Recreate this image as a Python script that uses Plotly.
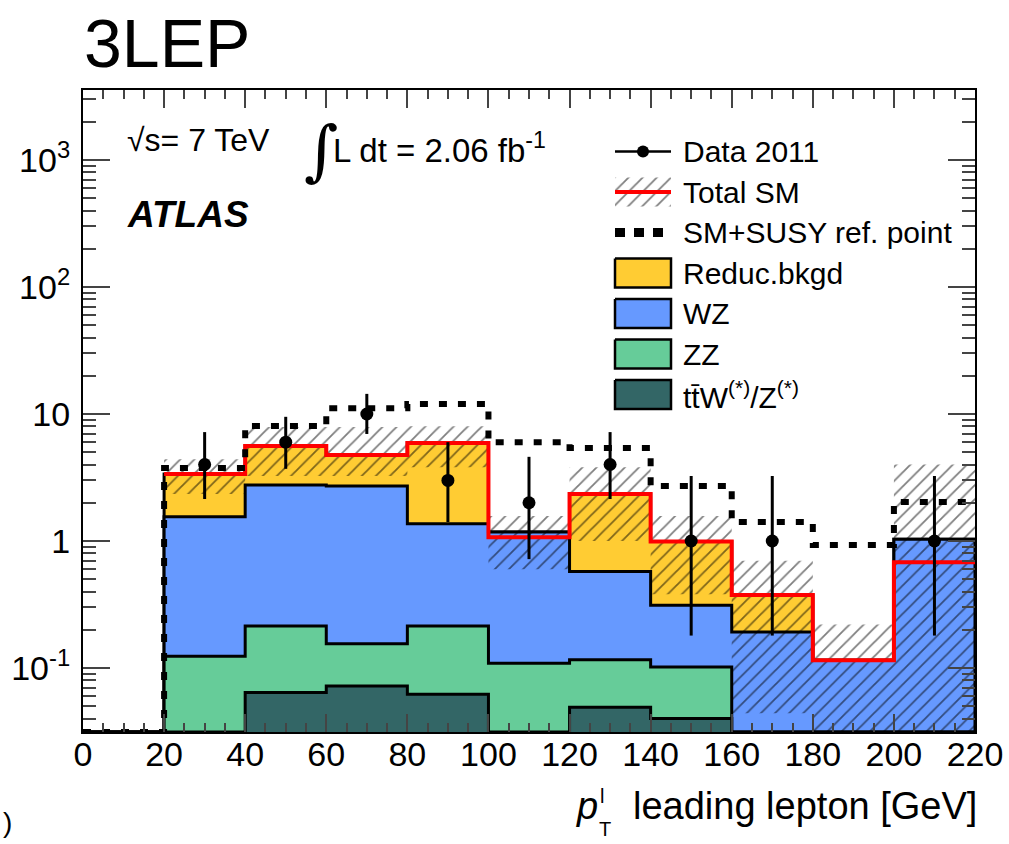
import numpy as np
import plotly.graph_objects as go

W, H = 1009, 844
PL, PR, PT, PB = 83, 975, 90, 732   # plot frame in px

# ---------------- data ----------------
bin_edges = [0, 20, 40, 60, 80, 100, 120, 140, 160, 180, 200, 220]
ttw   = [0, 0, 0.064, 0.072, 0.062, 0, 0.049, 0.040, 0, 0, 0]
zz    = [0, 0.124, 0.150, 0.083, 0.152, 0.109, 0.067, 0.062, 0, 0, 0]
wz    = [0, 1.43, 2.55, 2.56, 1.15, 1.07, 0.46, 0.21, 0.192, 0.115, 1.03]
reduc = [0, 1.82, 2.84, 2.04, 4.54, 0, 1.76, 0.68, 0.184, 0, 0]
total_sm   = [0, 3.37, 5.6, 4.75, 5.9, 1.07, 2.34, 0.99, 0.376, 0.115, 0.68]
sm_band_lo = [0, 2.34, 3.25, 3.25, 3.8, 0.6, 1.0, 0.38, 0.044, 0, 0]
sm_band_hi = [0, 4.4, 7.9, 7.9, 8.0, 1.57, 3.8, 1.57, 0.70, 0.22, 4.0]
sm_susy    = [0, 3.76, 8.05, 11.1, 12.0, 6.0, 5.4, 2.71, 1.41, 0.93, 2.03]
data_x  = [30, 50, 70, 90, 110, 130, 150, 170, 210]
data_y  = [4, 6, 10, 3, 2, 4, 1, 1, 1]
data_hi = [7.2, 9.5, 14.4, 6.0, 4.6, 7.2, 3.25, 3.25, 3.25]
data_lo = [2.14, 3.7, 6.96, 1.41, 0.72, 2.14, 0.18, 0.18, 0.18]

x_ticks = list(range(0, 221, 20))
y_ticks = [0.1, 1, 10, 100, 1000]
y_ticktext = ["10<sup>-1</sup>", "1", "10", "10<sup>2</sup>", "10<sup>3</sup>"]

legend_labels = ["Data 2011", "Total SM", "SM+SUSY ref. point", "Reduc.bkgd",
                 "WZ", "ZZ", "t\u0074\u0304W<sup>(*)</sup>/Z<sup>(*)</sup>"]

C_REDUC, C_WZ, C_ZZ, C_TTW = "#FFCC33", "#6699FF", "#66CC99", "#336666"

YLOG = [-1.504, 3.551]
ymin = 10 ** YLOG[0]
FONT = "Liberation Sans, Arial, Helvetica, sans-serif"

edges = np.array(bin_edges, dtype=float)


def step(vals, start=0):
    v = np.maximum(np.array(vals, dtype=float), ymin)
    xs, ys = [], []
    for i in range(start, len(v)):
        xs += [edges[i], edges[i + 1]]
        ys += [v[i], v[i]]
    return xs, ys


HATCH = dict(shape="/", fgcolor="black", bgcolor="rgba(0,0,0,0)", size=10,
             solidity=0.18, fillmode="overlay")

fig = go.Figure()

# ---------------- stacked backgrounds ----------------
stack = np.cumsum(np.array([ttw, zz, wz, reduc], dtype=float), axis=0)
colors = [C_TTW, C_ZZ, C_WZ, C_REDUC]
for k in [3, 2, 1, 0]:
    xs, ys = step(stack[k])
    xs = [edges[0]] + xs + [edges[-1]]
    ys = [ymin] + ys + [ymin]
    fig.add_trace(go.Scatter(x=xs, y=ys, mode="lines", fill="toself",
                             fillcolor=colors[k],
                             line=dict(color="black", width=3),
                             hoverinfo="skip"))

# ---------------- SM uncertainty band (hatched) ----------------
bx, by = [], []
for i in range(1, len(edges) - 1):
    lo = max(sm_band_lo[i], ymin * 0.5)
    hi = sm_band_hi[i]
    bx += [edges[i], edges[i + 1], edges[i + 1], edges[i], edges[i], None]
    by += [lo, lo, hi, hi, lo, None]
fig.add_trace(go.Scatter(x=bx, y=by, mode="lines", fill="toself",
                         fillcolor="rgba(0,0,0,0)", fillpattern=HATCH,
                         line=dict(width=0, color="rgba(0,0,0,0)"),
                         hoverinfo="skip"))

# ---------------- total SM line ----------------
xs, ys = step(total_sm, start=1)
fig.add_trace(go.Scatter(x=xs, y=ys, mode="lines",
                         line=dict(color="#FF0000", width=4), hoverinfo="skip"))

# ---------------- SM + SUSY ----------------
xs, ys = step(sm_susy)
fig.add_trace(go.Scatter(x=xs, y=ys, mode="lines",
                         line=dict(color="black", width=6, dash="8px,11px"),
                         hoverinfo="skip"))

# ---------------- data ----------------
dy = np.array(data_y, dtype=float)
fig.add_trace(go.Scatter(
    x=data_x, y=data_y, mode="markers",
    marker=dict(color="black", size=13),
    error_y=dict(type="data", symmetric=False,
                 array=list(np.array(data_hi) - dy),
                 arrayminus=list(dy - np.array(data_lo)),
                 color="black", thickness=3, width=0),
    hoverinfo="skip"))

# ---------------- manual legend (pixel overlay axes) ----------------
LX0, LX1, LTX = 615, 671, 681
rows = [151.5 + 40.5 * i for i in range(len(legend_labels))]
BH = 14.5

def px(**kw):
    return go.Scatter(xaxis="x2", yaxis="y2", hoverinfo="skip", **kw)

# Data
fig.add_trace(px(x=[LX0, LX1], y=[rows[0], rows[0]], mode="lines",
                 line=dict(color="black", width=2.5)))
fig.add_trace(px(x=[(LX0 + LX1) / 2], y=[rows[0]], mode="markers",
                 marker=dict(color="black", size=12)))
# Total SM
r = rows[1]
fig.add_trace(px(x=[LX0, LX1, LX1, LX0, LX0], y=[r - BH, r - BH, r + BH, r + BH, r - BH],
                 mode="lines", fill="toself", fillcolor="rgba(0,0,0,0)",
                 fillpattern=HATCH, line=dict(width=0, color="rgba(0,0,0,0)")))
fig.add_trace(px(x=[LX0, LX1], y=[r, r], mode="lines",
                 line=dict(color="#FF0000", width=4)))
# SM+SUSY
r = rows[2]
fig.add_trace(px(x=[LX0, LX1], y=[r, r], mode="lines",
                 line=dict(color="black", width=9, dash="10px,9px")))
# filled boxes
for r, c in zip(rows[3:], [C_REDUC, C_WZ, C_ZZ, C_TTW]):
    fig.add_trace(px(x=[LX0, LX1, LX1, LX0, LX0], y=[r - BH, r - BH, r + BH, r + BH, r - BH],
                     mode="lines", fill="toself", fillcolor=c,
                     line=dict(color="black", width=2.5)))

annotations = []
for r, lab in zip(rows, legend_labels):
    annotations.append(dict(x=LTX, y=r, xref="x2", yref="y2", text=lab,
                            xanchor="left", yanchor="middle", showarrow=False,
                            font=dict(family=FONT, size=30, color="black")))

def txt(x, y, t, size, xanchor="left", family=FONT):
    annotations.append(dict(x=x, y=y, xref="x2", yref="y2", text=t, xanchor=xanchor,
                            yanchor="middle", showarrow=False,
                            font=dict(family=family, size=size, color="black")))

txt(82, 43, "3LEP", 68)
txt(125, 140, "\u221as= 7 TeV", 32)
txt(321, 150, "\u222b", 66, xanchor="center", family="DejaVu Serif, serif")
txt(331, 148, "L dt = 2.06 fb<sup>-1</sup>", 33)
txt(125, 214, "<b><i>ATLAS</i></b>", 37)
txt(979, 806, "leading lepton [GeV]", 38, xanchor="right")
txt(600, 806, "<i>p</i>", 38, xanchor="right")
txt(598, 796, "l", 20)
txt(597, 829, "T", 20)
txt(0.5, 822, ")", 28)

minor_y = [k * 10.0 ** d for d in range(-2, 4) for k in range(2, 10)]

fig.update_layout(
    width=W, height=H,
    margin=dict(l=0, r=0, t=0, b=0, autoexpand=False),
    paper_bgcolor="white", plot_bgcolor="rgba(0,0,0,0)",
    showlegend=False,
    font=dict(family=FONT, color="black"),
    annotations=annotations,
    xaxis=dict(domain=[PL / W, PR / W], anchor="y", range=[0, 220], automargin=False,
               tickvals=x_ticks, ticks="inside", ticklen=18, tickwidth=2,
               showline=True, linewidth=2, linecolor="black", mirror="ticks",
               showgrid=False, zeroline=False, tickfont=dict(size=34),
               ticklabelstandoff=-9,
               minor=dict(ticks="inside", dtick=5, ticklen=9, tickwidth=2,
                          showgrid=False)),
    yaxis=dict(domain=[1 - PB / H, 1 - PT / H], anchor="x", type="log", range=YLOG,
               automargin=False,
               tickvals=y_ticks, ticktext=y_ticktext, ticks="inside", ticklen=27,
               tickwidth=2, showline=True, linewidth=2, linecolor="black",
               mirror="ticks", showgrid=False, zeroline=False,
               tickfont=dict(size=34), ticklabelstandoff=4,
               minor=dict(ticks="inside", tickvals=minor_y, ticklen=13, tickwidth=2,
                          showgrid=False)),
    xaxis2=dict(domain=[0, 1], anchor="y2", range=[0, W], visible=False,
                fixedrange=True, automargin=False),
    yaxis2=dict(domain=[0, 1], anchor="x2", range=[H, 0], visible=False,
                fixedrange=True, automargin=False),
)

fig.write_html("out.html")
